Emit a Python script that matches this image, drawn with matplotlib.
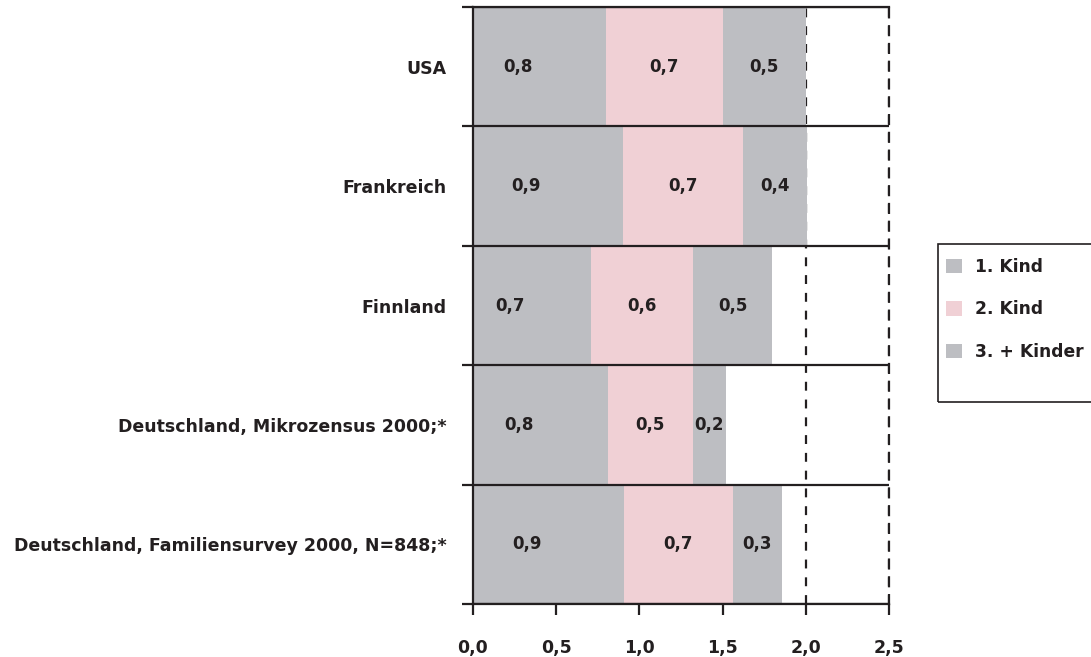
import numpy as np
import matplotlib
matplotlib.use("Agg")
import matplotlib.pyplot as plt
from matplotlib.patches import Rectangle

categories = [
    "USA",
    "Frankreich",
    "Finnland",
    "Deutschland, Mikrozensus 2000;*",
    "Deutschland, Familiensurvey 2000, N=848;*",
]
kind1 = [0.80, 0.90, 0.71, 0.81, 0.91]
kind2 = [0.70, 0.72, 0.61, 0.51, 0.65]
kind3 = [0.50, 0.39, 0.48, 0.20, 0.30]
labels1 = ["0,8", "0,9", "0,7", "0,8", "0,9"]
labels2 = ["0,7", "0,7", "0,6", "0,5", "0,7"]
labels3 = ["0,5", "0,4", "0,5", "0,2", "0,3"]
series_names = ["1. Kind", "2. Kind", "3. + Kinder"]
xticks = [0.0, 0.5, 1.0, 1.5, 2.0, 2.5]
xtick_labels = ["0,0", "0,5", "1,0", "1,5", "2,0", "2,5"]

GRAY = "#BDBEC2"
PINK = "#F0D0D5"
INK = "#231F20"
FONT = "DejaVu Sans"

fig = plt.figure(figsize=(10.91, 6.57), dpi=100)
ax = fig.add_axes([0.4335, 0.0807, 0.3813, 0.9086])

y = np.arange(len(categories))
k1 = np.array(kind1)
k2 = np.array(kind2)
k3 = np.array(kind3)

ax.barh(y, k1, height=1.0, color=GRAY, zorder=2, label=series_names[0])
ax.barh(y, k2, left=k1, height=1.0, color=PINK, zorder=2, label=series_names[1])
ax.barh(y, k3, left=k1 + k2, height=1.0, color=GRAY, zorder=2, label=series_names[2])

# value labels (first segment label sits left of centre as in the original)
num_kw = dict(ha="center", va="center", fontsize=12, fontweight="bold",
              family=FONT, color=INK, zorder=4)
for i in range(len(categories)):
    ax.text(k1[i] / 2 - 0.13, y[i], labels1[i], **num_kw)
    ax.text(k1[i] + k2[i] / 2, y[i], labels2[i], **num_kw)
    ax.text(k1[i] + k2[i] + k3[i] / 2, y[i], labels3[i], **num_kw)

# row separators
for b in np.arange(len(categories) + 1) - 0.5:
    ax.axhline(b, color=INK, linewidth=1.6, zorder=3)

ax.set_xlim(0, 2.5)
ax.set_ylim(len(categories) - 0.5, -0.5)

ax.set_xticks(xticks)
ax.set_xticklabels(xtick_labels, fontsize=12.5, fontweight="bold",
                   family=FONT, color=INK)
ax.tick_params(axis="x", direction="out", length=8, width=1.6, color=INK, pad=17)

ax.set_yticks(y)
ax.set_yticklabels(categories, fontsize=12.5, fontweight="bold", color=INK,
                   family=FONT)
ax.tick_params(axis="y", which="major", length=0, pad=19)
ax.set_yticks(np.arange(len(categories) + 1) - 0.5, minor=True)
ax.tick_params(axis="y", which="minor", direction="out", length=8, width=1.6, color=INK)

ax.xaxis.grid(True, color=INK, linestyle=(0, (4, 4)), linewidth=1.6, zorder=1)
ax.set_axisbelow(True)

for side in ["left", "bottom", "top"]:
    ax.spines[side].set_color(INK)
    ax.spines[side].set_linewidth(1.6)
ax.spines["right"].set_color(INK)
ax.spines["right"].set_linewidth(1.6)
ax.spines["right"].set_linestyle((0, (4, 4)))

# legend with an open-ended box as in the original
fig.patches.append(Rectangle((938 / 1091, 1 - 402 / 657), 0.2, (402 - 244) / 657,
                             transform=fig.transFigure, fill=False,
                             edgecolor=INK, linewidth=1.2))
leg = ax.legend(loc="upper left", bbox_to_anchor=(934 / 1091, 1 - 246 / 657),
                bbox_transform=fig.transFigure, frameon=False,
                prop={"family": FONT, "weight": "bold", "size": 12.3},
                handlelength=0.95, handleheight=0.95, handletextpad=0.75,
                labelspacing=1.43, borderpad=0.2)
for t in leg.get_texts():
    t.set_color(INK)

fig.savefig("out.png", dpi=100)
